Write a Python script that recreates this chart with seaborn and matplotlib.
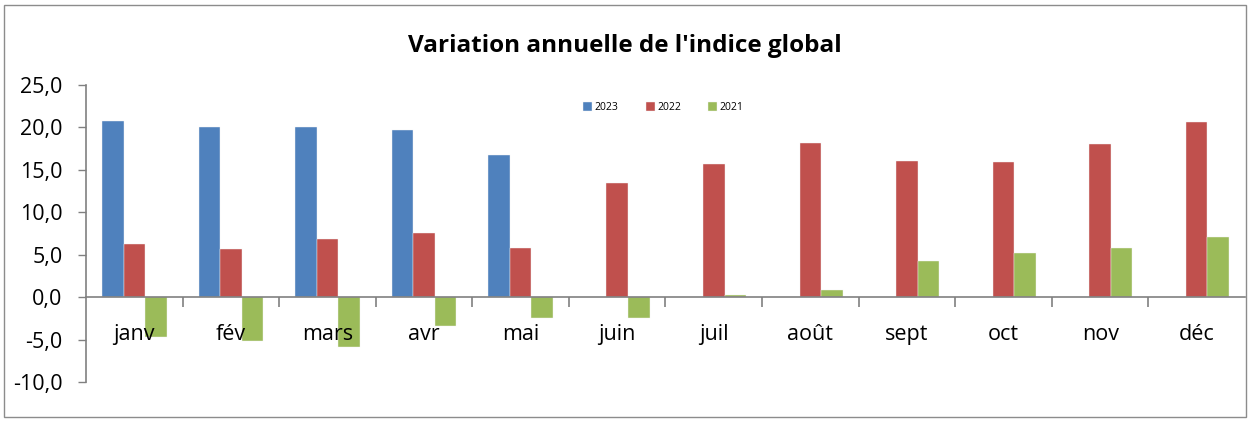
import numpy as np
import pandas as pd
import matplotlib
matplotlib.use("Agg")
import matplotlib.pyplot as plt
from matplotlib.patches import Rectangle
from matplotlib.ticker import FuncFormatter, FixedLocator
import seaborn as sns

# --- Données ---
mois = ['janv', 'fév', 'mars', 'avr', 'mai', 'juin', 'juil', 'août', 'sept', 'oct', 'nov', 'déc']
annees = ['2023', '2022', '2021']
v2023 = [20.7, 20.0, 20.1, 19.7, 16.7, np.nan, np.nan, np.nan, np.nan, np.nan, np.nan, np.nan]
v2022 = [6.3, 5.7, 6.9, 7.6, 5.8, 13.4, 15.7, 18.2, 16.0, 15.9, 18.0, 20.6]
v2021 = [-4.7, -5.2, -5.9, -3.4, -2.4, -2.4, 0.3, 0.9, 4.3, 5.2, 5.8, 7.1]
couleurs = ['#4F81BD', '#C0504D', '#9BBB59']

df = pd.DataFrame({'mois': mois * 3,
                   'annee': [a for a in annees for _ in mois],
                   'valeur': v2023 + v2022 + v2021}).dropna()

sns.set_style('white')
plt.rcParams['font.family'] = ['Open Sans', 'DejaVu Sans']
plt.rcParams['text.color'] = 'black'
plt.rcParams['xtick.labelcolor'] = 'black'
plt.rcParams['ytick.labelcolor'] = 'black'

fig = plt.figure(figsize=(12.5, 4.21), dpi=100)
ax = fig.add_axes([0.0688, 0.0926, 0.9272, 0.7055])

sns.barplot(data=df, x='mois', y='valeur', hue='annee', order=mois, hue_order=annees,
            palette=couleurs, width=0.67, ax=ax, errorbar=None, saturation=1,
            edgecolor='#F2F2F2', linewidth=0.3)

ax.set_xlim(-0.5, 11.5)
ax.set_ylim(-10, 25)
ax.set_yticks(np.arange(-10, 26, 5))
ax.yaxis.set_major_formatter(FuncFormatter(lambda v, p: f'{v:.1f}'.replace('.', ',')))
ax.tick_params(axis='y', labelsize=15.5, length=5.8, width=1, color='#808080',
               direction='out', left=True, pad=11)

# axe des x au niveau du zéro
ax.set_axisbelow(False)
ax.spines['bottom'].set_position(('data', 0))
for s in ['top', 'right']:
    ax.spines[s].set_visible(False)
for s in ['left', 'bottom']:
    ax.spines[s].set_color('#808080')
    ax.spines[s].set_linewidth(1.2)
ax.xaxis.set_minor_locator(FixedLocator(np.arange(0.5, 11.5, 1)))
ax.tick_params(axis='x', which='major', length=0, labelsize=15.5, pad=19)
ax.tick_params(axis='x', which='minor', length=7, width=1.2, color='#808080',
               direction='out', bottom=True)
ax.set_xlabel('')
ax.set_ylabel('')

leg = ax.legend(loc='center', bbox_to_anchor=(0.498, 0.923), ncol=3, frameon=False,
                fontsize=7.5, handlelength=0.9, handleheight=0.9, handletextpad=0.2,
                columnspacing=2.6)

fig.text(0.5, 1 - 46 / 421, "Variation annuelle de l'indice global", ha='center', va='center',
         fontsize=17.5, fontweight='bold')

fig.patches.append(Rectangle((4 / 1250, 4 / 421), 1242 / 1250, 412 / 421, transform=fig.transFigure,
                             fill=False, edgecolor='#8C8C8C', linewidth=1))

fig.savefig('out.png', dpi=100)
